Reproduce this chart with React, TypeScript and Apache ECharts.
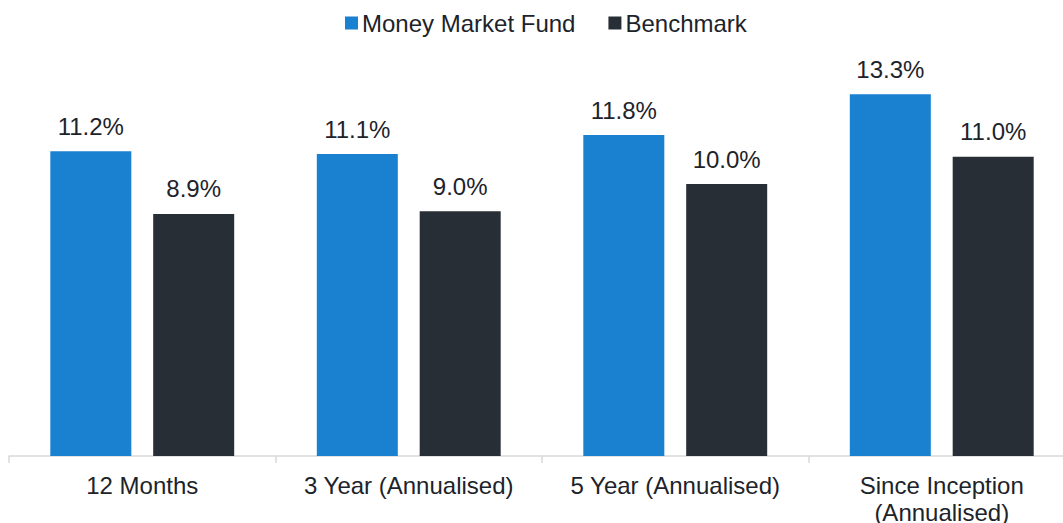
import React, { useEffect, useRef } from "react";
import * as echarts from "echarts";

const categories = ["12 Months", "3 Year (Annualised)", "5 Year (Annualised)", "Since Inception\n(Annualised)"];
const fundValues = [11.2, 11.1, 11.8, 13.3];
const benchmarkValues = [8.9, 9.0, 10.0, 11.0];
const seriesNames = ["Money Market Fund", "Benchmark"];

const FONT = "'Liberation Sans', Arial, sans-serif";
const TEXT = "#1d232a";

export default function App() {
  const ref = useRef<HTMLDivElement>(null);
  useEffect(() => {
    document.body.style.margin = "0";
    const chart = echarts.init(ref.current!, null, { renderer: "svg" });
    const label = {
      show: true,
      position: "top",
      distance: 13,
      fontSize: 24,
      fontFamily: FONT,
      color: TEXT,
      formatter: (p: any) => p.value.toFixed(1) + "%",
    };
    chart.setOption({
      animation: false,
      textStyle: { fontFamily: FONT },
      legend: {
        left: 340,
        top: 6,
        itemWidth: 13,
        itemHeight: 13,
        itemGap: 33,
        icon: "rect",
        textStyle: { fontSize: 24, color: TEXT, fontFamily: FONT, padding: [0, 0, 0, -1] },
        data: seriesNames,
      },
      grid: { left: 9, width: 1066, top: 48, bottom: 67, containLabel: false, outerBoundsMode: "none" },
      xAxis: {
        type: "category",
        data: categories,
        axisLine: { show: true, lineStyle: { color: "#d9d9d9", width: 1.5 } },
        axisTick: { show: true, length: 7, lineStyle: { color: "#d9d9d9", width: 1.5 } },
        axisLabel: { fontSize: 24, color: TEXT, fontFamily: FONT, margin: 16, lineHeight: 27, interval: 0 },
      },
      yAxis: {
        type: "value",
        min: 0,
        max: 15,
        show: false,
        splitLine: { show: false },
      },
      series: [
        {
          name: seriesNames[0],
          type: "bar",
          data: fundValues,
          itemStyle: { color: "#1a80d0" },
          barGap: "27%",
          barCategoryGap: "31%",
          label,
        },
        {
          name: seriesNames[1],
          type: "bar",
          data: benchmarkValues,
          itemStyle: { color: "#282e35" },
          label,
        },
      ],
    });
    return () => chart.dispose();
  }, []);
  return <div ref={ref} style={{ width: 1063, height: 523 }} />;
}
